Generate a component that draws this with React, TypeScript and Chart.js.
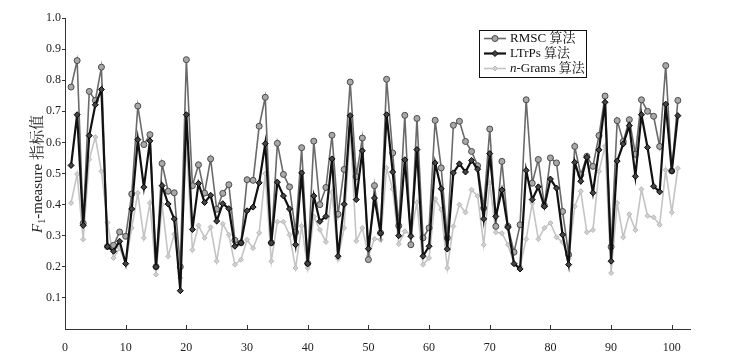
import React, { useEffect, useRef } from "react";
import { Chart, registerables } from "chart.js";

Chart.register(...registerables);

const xTickValues = [0, 10, 20, 30, 40, 50, 60, 70, 80, 90, 100];
const yTickValues = [0.1, 0.2, 0.3, 0.4, 0.5, 0.6, 0.7, 0.8, 0.9, 1.0];

const rmsc = [
  0.778, 0.863, 0.34, 0.764, 0.735, 0.842, 0.265, 0.269, 0.312, 0.298,
  0.434, 0.717, 0.593, 0.625, 0.2, 0.532, 0.443, 0.438, 0.2, 0.866,
  0.461, 0.528, 0.437, 0.547, 0.385, 0.436, 0.464, 0.285, 0.277, 0.48,
  0.478, 0.652, 0.745, 0.277, 0.597, 0.497, 0.457, 0.311, 0.583, 0.211,
  0.604, 0.4, 0.455, 0.623, 0.369, 0.513, 0.794, 0.49, 0.614, 0.223,
  0.461, 0.309, 0.803, 0.566, 0.332, 0.687, 0.271, 0.677, 0.293, 0.325,
  0.671, 0.518, 0.293, 0.655, 0.668, 0.603, 0.571, 0.525, 0.389, 0.643,
  0.33, 0.539, 0.33, 0.247, 0.335, 0.737, 0.469, 0.545, 0.397, 0.55,
  0.534, 0.378, 0.239, 0.587, 0.496, 0.555, 0.523, 0.622, 0.749, 0.264,
  0.67, 0.603, 0.673, 0.562, 0.737, 0.7, 0.684, 0.587, 0.847, 0.508,
  0.735,
];

const ltrps = [
  0.526, 0.689, 0.333, 0.622, 0.721, 0.77, 0.265, 0.25, 0.282, 0.21,
  0.386, 0.609, 0.456, 0.605, 0.2, 0.461, 0.402, 0.354, 0.123, 0.689,
  0.32, 0.468, 0.407, 0.43, 0.347, 0.403, 0.387, 0.266, 0.277, 0.38,
  0.392, 0.47, 0.596, 0.277, 0.472, 0.428, 0.386, 0.271, 0.502, 0.21,
  0.428, 0.346, 0.362, 0.547, 0.234, 0.401, 0.686, 0.416, 0.573, 0.258,
  0.421, 0.308, 0.689, 0.505, 0.3, 0.544, 0.298, 0.577, 0.234, 0.266,
  0.534, 0.451, 0.257, 0.502, 0.531, 0.505, 0.542, 0.514, 0.354, 0.564,
  0.362, 0.447, 0.327, 0.21, 0.193, 0.51, 0.416, 0.457, 0.394, 0.482,
  0.453, 0.303, 0.207, 0.536, 0.475, 0.552, 0.438, 0.576, 0.729, 0.218,
  0.54, 0.595, 0.654, 0.491, 0.689, 0.584, 0.459, 0.441, 0.723, 0.508,
  0.686,
];

const ngrams = [
  0.405, 0.498, 0.288, 0.545, 0.617, 0.507, 0.342, 0.228, 0.26, 0.21,
  0.325, 0.437, 0.293, 0.405, 0.175, 0.4, 0.234, 0.305, 0.164, 0.6,
  0.255, 0.333, 0.293, 0.327, 0.218, 0.338, 0.303, 0.207, 0.223, 0.287,
  0.26, 0.309, 0.5, 0.218, 0.345, 0.345, 0.303, 0.196, 0.331, 0.196,
  0.362, 0.319, 0.28, 0.44, 0.226, 0.325, 0.646, 0.283, 0.325, 0.235,
  0.29, 0.287, 0.518, 0.45, 0.273, 0.314, 0.303, 0.407, 0.207, 0.228,
  0.418, 0.384, 0.196, 0.33, 0.4, 0.375, 0.448, 0.427, 0.271, 0.469,
  0.311, 0.308, 0.271, 0.21, 0.201, 0.289, 0.405, 0.289, 0.325, 0.341,
  0.295, 0.279, 0.225, 0.394, 0.443, 0.311, 0.318, 0.507, 0.588, 0.18,
  0.405, 0.295, 0.369, 0.318, 0.449, 0.364, 0.359, 0.335, 0.511, 0.375,
  0.517,
];

const seriesNames = ["RMSC 算法", "LTrPs 算法", "n-Grams 算法"];
const yTitleParts = ["F", "1", "-measure 指标值"];

const SERIF = '"Liberation Serif", "Times New Roman", "Noto Serif CJK SC", "Noto Sans CJK SC", serif';

const toPoints = (arr: number[]) => arr.map((v, i) => ({ x: i + 1, y: v }));

const styles = [
  { line: "#6a6a6a", width: 1.6, fill: "#a8a8a8", border: "#4a4a4a", shape: "circle", radius: 3 },
  { line: "#111111", width: 2.2, fill: "#444444", border: "#000000", shape: "rectRot", radius: 3 },
  { line: "#c4c4c4", width: 1.6, fill: "#d0d0d0", border: "#b8b8b8", shape: "rectRot", radius: 2.5 },
];

const overlayPlugin = {
  id: "overlay",
  afterDraw(chart: any) {
    const ctx = chart.ctx;
    const xs = chart.scales.x;
    const area = chart.chartArea;
    ctx.save();
    // inward x ticks
    ctx.strokeStyle = "#333";
    ctx.lineWidth = 1;
    xTickValues.forEach((v) => {
      const px = Math.round(xs.getPixelForValue(v)) + 0.5;
      ctx.beginPath();
      ctx.moveTo(px, area.bottom);
      ctx.lineTo(px, area.bottom - 4);
      ctx.stroke();
    });

    // y axis title
    ctx.save();
    ctx.translate(38, 174);
    ctx.rotate(-Math.PI / 2);
    ctx.fillStyle = "#222";
    ctx.textBaseline = "middle";
    const fBig = "italic 15px " + SERIF;
    const fSub = "10px " + SERIF;
    const fNorm = "15px " + SERIF;
    ctx.font = fBig;
    const w1 = ctx.measureText(yTitleParts[0]).width;
    ctx.font = fSub;
    const w2 = ctx.measureText(yTitleParts[1]).width;
    ctx.font = fNorm;
    const w3 = ctx.measureText(yTitleParts[2]).width;
    let cx = -(w1 + w2 + w3) / 2;
    ctx.font = fBig;
    ctx.fillText(yTitleParts[0], cx, 0);
    cx += w1;
    ctx.font = fSub;
    ctx.fillText(yTitleParts[1], cx, 4);
    cx += w2;
    ctx.font = fNorm;
    ctx.fillText(yTitleParts[2], cx, 0);
    ctx.restore();

    // legend
    const bx = 479.5, by = 30.5, bw = 107, bh = 47;
    ctx.fillStyle = "#fff";
    ctx.fillRect(bx, by, bw, bh);
    ctx.strokeStyle = "#111";
    ctx.lineWidth = 1;
    ctx.strokeRect(bx, by, bw, bh);
    const rows = [38.5, 53.5, 68.5];
    const order = [0, 1, 2];
    order.forEach((si, r) => {
      const st = styles[si];
      const y = rows[r];
      ctx.strokeStyle = st.line;
      ctx.lineWidth = st.width;
      ctx.beginPath();
      ctx.moveTo(484, y);
      ctx.lineTo(506, y);
      ctx.stroke();
      ctx.fillStyle = st.fill;
      ctx.strokeStyle = st.border;
      ctx.lineWidth = 1;
      ctx.beginPath();
      if (st.shape === "circle") {
        ctx.arc(495, y, st.radius, 0, Math.PI * 2);
      } else {
        const rr = st.radius;
        ctx.moveTo(495, y - rr);
        ctx.lineTo(495 + rr, y);
        ctx.lineTo(495, y + rr);
        ctx.lineTo(495 - rr, y);
        ctx.closePath();
      }
      ctx.fill();
      ctx.stroke();
      ctx.fillStyle = "#111";
      ctx.textBaseline = "middle";
      const name = seriesNames[si];
      let tx = 510;
      if (name.startsWith("n-")) {
        ctx.font = "italic 13px " + SERIF;
        ctx.fillText("n", tx, y);
        tx += ctx.measureText("n").width;
        ctx.font = "13px " + SERIF;
        ctx.fillText(name.slice(1), tx, y);
      } else {
        ctx.font = "13px " + SERIF;
        ctx.fillText(name, tx, y);
      }
    });
    ctx.restore();
  },
};

export default function App() {
  const ref = useRef<HTMLCanvasElement | null>(null);
  useEffect(() => {
    if (!ref.current) return;
    const datasets = [rmsc, ltrps, ngrams].map((arr, i) => {
      const st = styles[i];
      return {
        label: seriesNames[i],
        data: toPoints(arr),
        borderColor: st.line,
        borderWidth: st.width,
        backgroundColor: st.fill,
        pointBackgroundColor: st.fill,
        pointBorderColor: st.border,
        pointBorderWidth: 1,
        pointStyle: st.shape,
        pointRadius: st.radius,
        tension: 0,
        fill: false,
        order: i === 1 ? 0 : i === 0 ? 1 : 2,
      };
    });
    const chart = new Chart(ref.current, {
      type: "line",
      data: { datasets },
      plugins: [overlayPlugin],
      options: {
        responsive: false,
        animation: false,
        events: [],
        layout: { padding: { top: 18, right: 59, left: 0, bottom: 0 } },
        plugins: { legend: { display: false }, tooltip: { enabled: false }, title: { display: false } },
        scales: {
          x: {
            type: "linear",
            min: 0,
            max: 103,
            afterFit: (s: any) => {
              s.height = 24;
            },
            afterBuildTicks: (s: any) => {
              s.ticks = xTickValues.map((v) => ({ value: v }));
            },
            grid: { display: false },
            border: { display: true, color: "#333", width: 1 },
            ticks: {
              color: "#222",
              padding: 4,
              maxRotation: 0,
              autoSkip: false,
              font: { family: SERIF, size: 12 },
              callback: (v: any) => String(v),
            },
          },
          y: {
            type: "linear",
            min: 0,
            max: 1,
            afterFit: (s: any) => {
              s.width = 65;
            },
            afterBuildTicks: (s: any) => {
              s.ticks = yTickValues.map((v) => ({ value: v }));
            },
            grid: { display: true, drawOnChartArea: false, drawTicks: true, tickLength: 3, color: "#333" },
            border: { display: true, color: "#333", width: 1 },
            ticks: {
              color: "#222",
              padding: 1,
              autoSkip: false,
              font: { family: SERIF, size: 12 },
              callback: (v: any) => Number(v).toFixed(1),
            },
          },
        },
      },
    } as any);
    return () => chart.destroy();
  }, []);
  return (
    <div style={{ position: "absolute", left: 0, top: 0, width: 749, height: 353, background: "#fff" }}>
      <canvas ref={ref} width={749} height={353} />
    </div>
  );
}
